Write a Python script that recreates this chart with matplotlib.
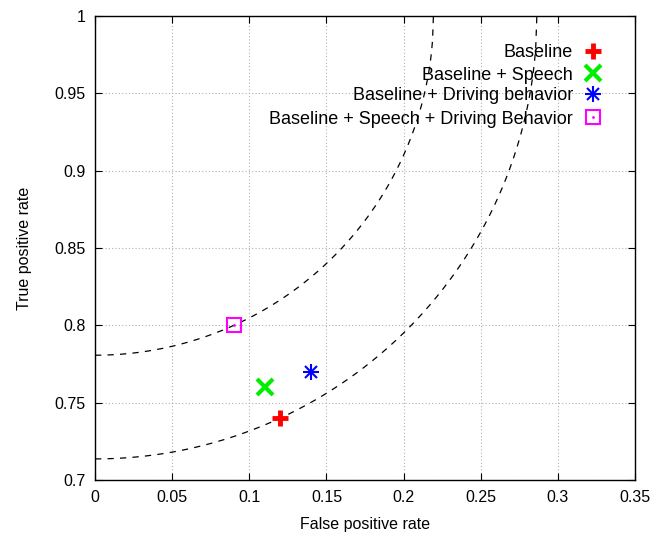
import numpy as np
import matplotlib.pyplot as plt

plt.rcParams['font.family'] = ['Liberation Sans', 'DejaVu Sans']

# Data
labels = [
    "Baseline",
    "Baseline + Speech",
    "Baseline + Driving behavior",
    "Baseline + Speech + Driving Behavior",
]
fpr = [0.12, 0.11, 0.14, 0.09]
tpr = [0.74, 0.76, 0.77, 0.80]
colors = ["#ff0000", "#00ee00", "#0000ff", "#ff00ff"]

x_ticks = [0, 0.05, 0.1, 0.15, 0.2, 0.25, 0.3, 0.35]
x_tick_labels = ["0", "0.05", "0.1", "0.15", "0.2", "0.25", "0.3", "0.35"]
y_ticks = [0.7, 0.75, 0.8, 0.85, 0.9, 0.95, 1.0]
y_tick_labels = ["0.7", "0.75", "0.8", "0.85", "0.9", "0.95", "1"]


def draw_marker(ax, x, y, i, **kw):
    """Draw gnuplot-like point types."""
    c = colors[i]
    if i == 0:
        ax.plot(x, y, marker="+", color=c, markersize=12, markeredgewidth=3.5,
                linestyle="none", **kw)
    elif i == 1:
        ax.plot(x, y, marker="x", color=c, markersize=11, markeredgewidth=3.0,
                linestyle="none", **kw)
    elif i == 2:
        ax.plot(x, y, marker="+", color=c, markersize=12, markeredgewidth=1.5,
                linestyle="none", **kw)
        ax.plot(x, y, marker="x", color=c, markersize=9, markeredgewidth=1.5,
                linestyle="none", **kw)
    else:
        ax.plot(x, y, marker="s", color=c, markersize=10, markeredgewidth=1.5,
                markerfacecolor="none", linestyle="none", **kw)
        ax.plot(x, y, marker=".", color=c, markersize=2, linestyle="none", **kw)


fig = plt.figure(figsize=(6.72, 5.33), dpi=100)
ax = fig.add_axes([0.1414, 0.0994, 0.8036, 0.8706])

# iso-distance arcs around the perfect classifier (0, 1)
for i in [3, 0]:
    r = np.hypot(fpr[i], 1 - tpr[i])
    xs = np.linspace(0, r, 400)
    ys = 1 - np.sqrt(np.clip(r ** 2 - xs ** 2, 0, None))
    ax.plot(xs, ys, color="black", linestyle=(0, (5, 5)), linewidth=0.9)

for i in range(len(labels)):
    draw_marker(ax, fpr[i], tpr[i], i)

# key
key_y = [0.9246, 0.877, 0.832, 0.782]
for i, lab in enumerate(labels):
    ax.text(0.885, key_y[i], lab, transform=ax.transAxes, ha="right",
            va="center_baseline", fontsize=13)
    draw_marker(ax, 0.922, key_y[i], i, transform=ax.transAxes, clip_on=False)

ax.set_xlim(0, 0.35)
ax.set_ylim(0.7, 1.0)
ax.set_xticks(x_ticks)
ax.set_xticklabels(x_tick_labels)
ax.set_yticks(y_ticks)
ax.set_yticklabels(y_tick_labels)
ax.tick_params(direction="in", top=True, right=True, labelsize=11.5, length=5,
               pad=7)
ax.grid(True, color="#b0b0b0", linestyle=(0, (1, 2)), linewidth=0.8)
for s in ax.spines.values():
    s.set_linewidth(1.0)

ax.set_xlabel("False positive rate", fontsize=11.5, labelpad=9)
ax.set_ylabel("True positive rate", fontsize=11.5, labelpad=16)

plt.savefig("out.png", dpi=100)
